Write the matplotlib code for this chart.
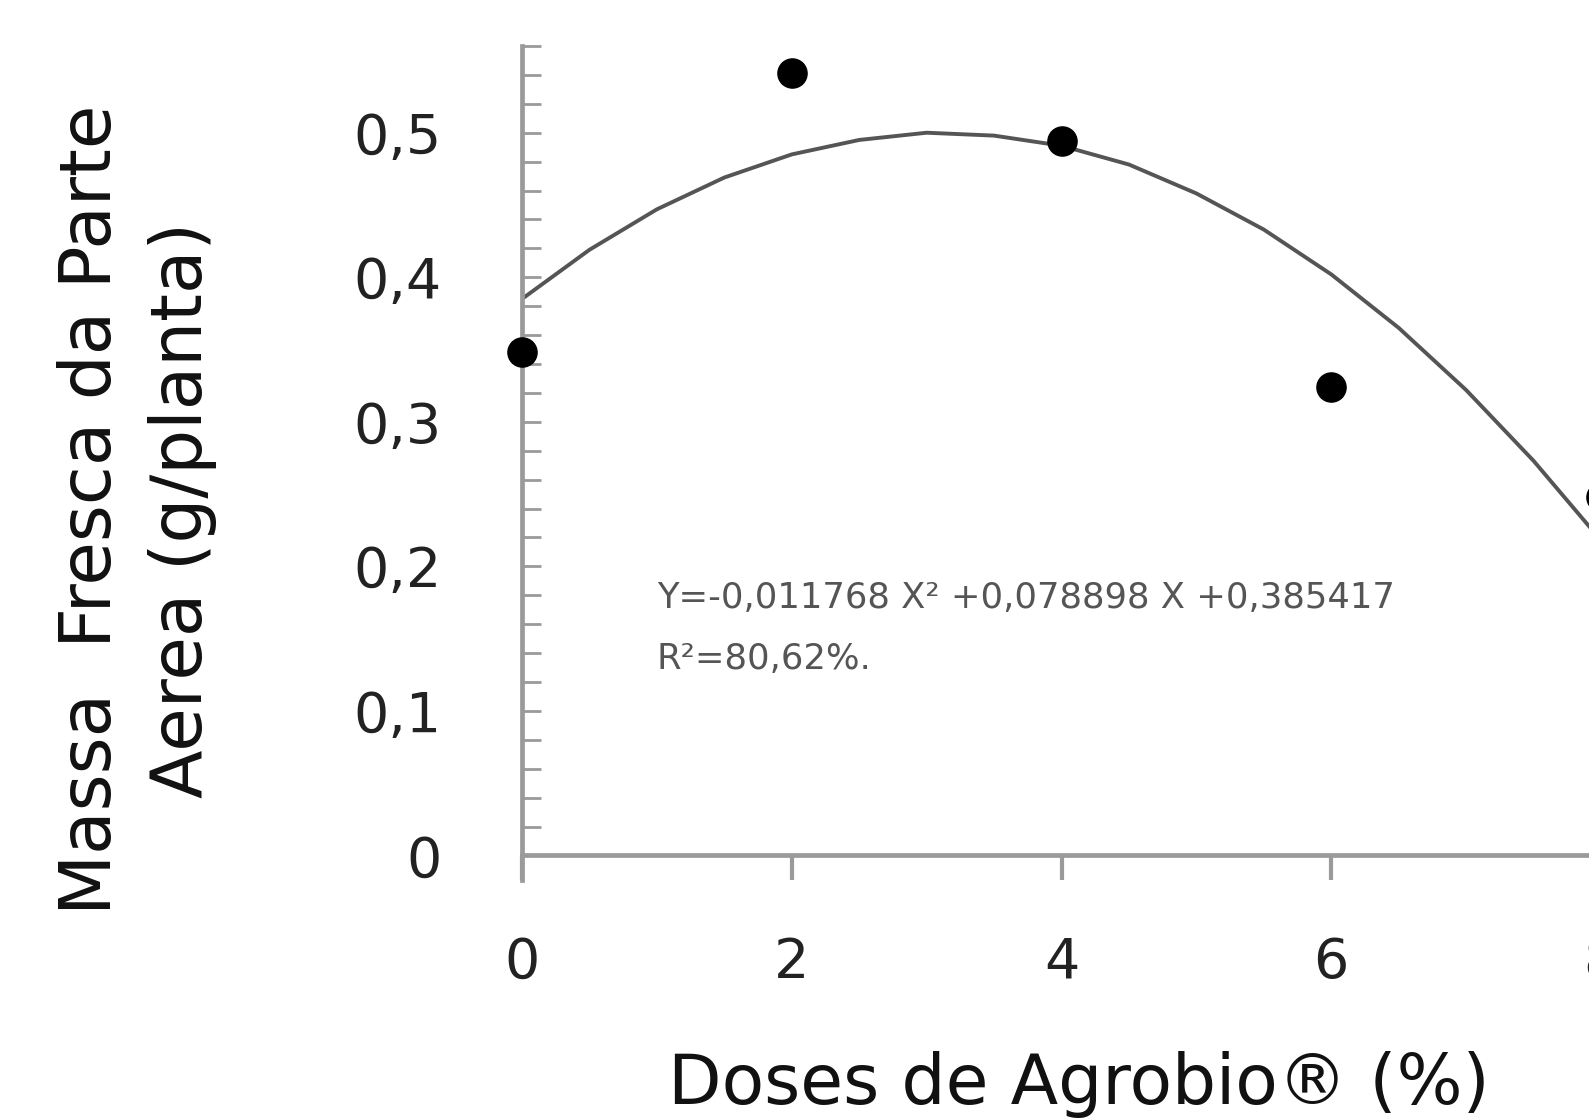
import numpy as np
import matplotlib as mpl
mpl.use('Agg')
import matplotlib.pyplot as plt
from matplotlib.ticker import FixedLocator

# observed means
doses = [0, 2, 4, 6, 8]
massa = [0.348, 0.541, 0.494, 0.324, 0.248]

# fitted curve as drawn in the figure
curve_x = [0, 0.5, 1, 1.5, 2, 2.5, 3, 3.5, 4, 4.5, 5, 5.5, 6, 6.5, 7, 7.5, 8]
curve_y = [0.385, 0.419, 0.447, 0.469, 0.485, 0.495, 0.500, 0.498, 0.491,
           0.478, 0.458, 0.433, 0.402, 0.365, 0.322, 0.273, 0.218]

x_ticks = [0, 2, 4, 6, 8]
y_ticks = [0, 0.1, 0.2, 0.3, 0.4, 0.5]
y_labels = ['0', '0,1', '0,2', '0,3', '0,4', '0,5']

eq_text = "Y=-0,011768 X² +0,078898 X +0,385417"
r2_text = "R²=80,62%."

W, H = 1589, 1118
fig = plt.figure(figsize=(W / 100, H / 100), dpi=100)
# y=0 sits at pixel 855, axis line runs a bit below it
ax = fig.add_axes([522 / W, 1 - 880 / H, (1601 - 522) / W, (880 - 46) / H])

spine_col = '#9a9a9a'
ax.plot(curve_x, curve_y, color='#555555', lw=2.8, zorder=2)
ax.plot(doses, massa, 'o', color='black', ms=21, zorder=3, clip_on=False)

ax.set_xlim(0, 8)
ax.set_ylim(-0.017, 0.56)
ax.spines['bottom'].set_position(('data', 0))
for s in ['top', 'right']:
    ax.spines[s].set_visible(False)
for s in ['left', 'bottom']:
    ax.spines[s].set_color(spine_col)
    ax.spines[s].set_linewidth(3.4)

ax.set_xticks(x_ticks)
ax.set_xticklabels([str(v) for v in x_ticks])
ax.set_yticks(y_ticks)
ax.set_yticklabels(y_labels)
ax.yaxis.set_minor_locator(FixedLocator(np.arange(0, 0.5601, 0.02)))

ax.tick_params(axis='x', direction='out', length=18, width=3, color=spine_col,
               labelsize=40, labelcolor='#222222', pad=40)
ax.tick_params(axis='y', which='both', direction='in', length=14, width=2,
               color=spine_col, labelsize=40, labelcolor='#222222', pad=58)

ax.text(1.0, 0.178, eq_text, fontsize=25.5, color='#555555', va='center', ha='left')
ax.text(1.0, 0.136, r2_text, fontsize=25.5, color='#555555', va='center', ha='left')

fig.text(668 / W, 1 - 1084 / H, "Doses de Agrobio® (%)", fontsize=50,
         color='#111111', ha='left', va='center')
fig.text(137 / W, 1 - 510 / H, "Massa  Fresca da Parte\nAerea (g/planta)",
         fontsize=51, color='#111111', rotation=90, ha='center', va='center',
         multialignment='center', linespacing=1.4)

fig.savefig('out.png', dpi=100)
